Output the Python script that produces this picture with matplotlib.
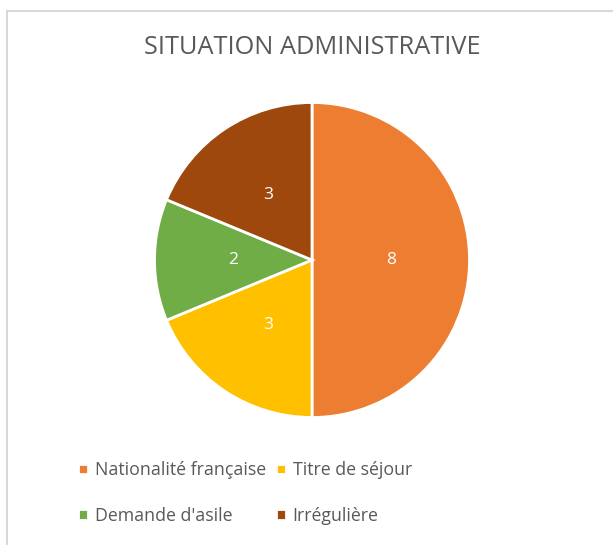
import matplotlib.pyplot as plt
from matplotlib.patches import Rectangle

# situation administrative
categories = ["Nationalité française", "Titre de séjour", "Demande d'asile", "Irrégulière"]
values = [8, 3, 2, 3]
colors = ["#ED7D31", "#FFC000", "#70AD47", "#9E480E"]

plt.rcParams['font.family'] = ['Open Sans', 'DejaVu Sans']

fig = plt.figure(figsize=(6.13, 5.45), dpi=100)
W, H = 613, 545

# light grey chart border (only left and top are visible in the crop)
fig.add_artist(Rectangle((6.5/W, -0.1), 1.2, (H-10.5)/H + 0.1, transform=fig.transFigure,
                         fill=False, edgecolor="#D9D9D9", linewidth=1.5))

cx, cy, r = 312, 545-260, 157.5
ax = fig.add_axes([(cx-r)/W, (cy-r)/H, 2*r/W, 2*r/H])
wedges, texts, autotexts = ax.pie(values, colors=colors, startangle=90, counterclock=False,
                                  autopct=lambda p: "%d" % round(p*sum(values)/100),
                                  pctdistance=0.5,
                                  wedgeprops=dict(edgecolor="white", linewidth=2),
                                  textprops=dict(color="white", fontsize=12.5))
ax.set_xlim(-1.0, 1.0)
ax.set_ylim(-1.0, 1.0)
ax.set_aspect("equal")

fig.text(cx/W, 1-48/H, "SITUATION ADMINISTRATIVE", ha="center", va="center",
         fontsize=18.3, color="#595959")

# legend filled row by row like Excel
order = [0, 2, 1, 3]
fig.legend([wedges[i] for i in order], [categories[i] for i in order], ncol=2, loc="center",
           bbox_to_anchor=(245/W, 1-493/H),
           frameon=False, fontsize=12.8, labelcolor="#595959", handlelength=0.55,
           handleheight=0.55, handletextpad=0.4, columnspacing=0.55, labelspacing=1.55)

fig.savefig("out.png", dpi=100)
